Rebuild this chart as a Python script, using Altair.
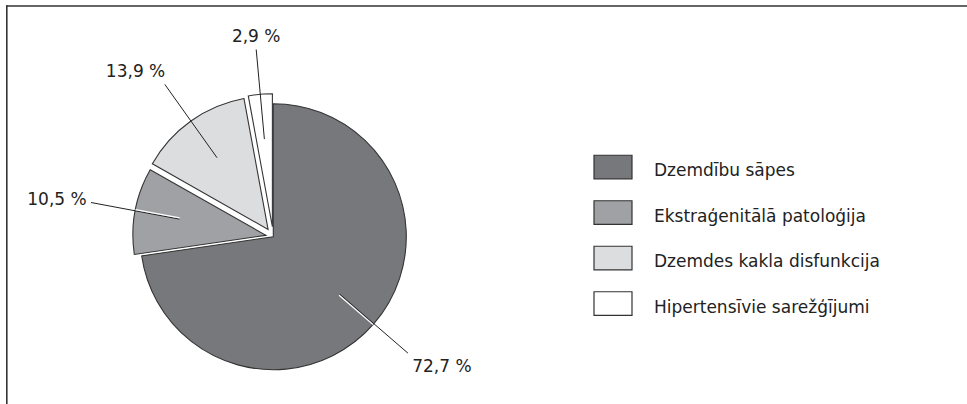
import altair as alt
import pandas as pd

# ---- data ----
categories = ["Dzemdību sāpes", "Ekstraģenitālā patoloģija",
              "Dzemdes kakla disfunkcija", "Hipertensīvie sarežģījumi"]
values = [72.7, 10.5, 13.9, 2.9]
labels = [f"{v:.1f}".replace(".", ",") + " %" for v in values]

# ---- styles ----
colors = ["#77787b", "#a0a1a4", "#dcddde", "#ffffff"]
explode = [0, 7.5, 9, 10]          # px pulled out from centre
dark_fill = [1, 1, 0, 0]           # leader drawn white inside dark slices
CX, CY, R = 273.3, 236.7, 133
R_IN, R_OUT = 88, 178
FONT = "DejaVu Sans"
FS = 17
INK = "#222222"

df = pd.DataFrame({
    "category": categories,
    "value": values,
    "label": labels,
    "order": list(range(len(values))),
    "explode": explode,
    "dark": dark_fill,
})

base = (
    alt.Chart(df)
    .transform_window(cum="sum(value)", sort=[alt.SortField("order", order="ascending")],
                      frame=[None, 0])
    .transform_joinaggregate(total="sum(value)")
    .transform_calculate(
        mid="(datum.cum - datum.value / 2) / datum.total * 2 * PI",
    )
    .transform_calculate(
        cx=f"{CX} + datum.explode * sin(datum.mid)",
        cy=f"{CY} - datum.explode * cos(datum.mid)",
    )
    .transform_calculate(
        lx1=f"datum.cx + {R_IN} * sin(datum.mid)",
        ly1=f"datum.cy - {R_IN} * cos(datum.mid)",
        lx2=f"datum.cx + {R_OUT} * sin(datum.mid)",
        ly2=f"datum.cy - {R_OUT} * cos(datum.mid)",
        wx1=f"datum.cx + {R_IN} * sin(datum.mid) + 1.2 * cos(datum.mid)",
        wy1=f"datum.cy - {R_IN} * cos(datum.mid) + 1.2 * sin(datum.mid)",
        wx2=f"datum.cx + {R} * sin(datum.mid) + 1.2 * cos(datum.mid)",
        wy2=f"datum.cy - {R} * cos(datum.mid) + 1.2 * sin(datum.mid)",
    )
    .transform_calculate(
        tx="datum.lx2 + 34 * (sin(datum.mid) < 0 ? -1 : 1) * min(1, max(0, abs(sin(datum.mid)) - 0.15) * 2)",
        ty="datum.ly2 - 13 * max(-1, min(1, 1.5 * cos(datum.mid))) + 1",
    )
)

arcs = base.mark_arc(radius=R, stroke="#333333", strokeWidth=1.1).encode(
    theta=alt.Theta("value:Q", stack=True),
    order=alt.Order("order:Q", sort="ascending"),
    x=alt.X("cx:Q", scale=None),
    y=alt.Y("cy:Q", scale=None),
    color=alt.Color(
        "category:N",
        sort=categories,
        scale=alt.Scale(domain=categories, range=colors),
        legend=alt.Legend(
            title=None,
            orient="none",
            legendX=593,
            legendY=151,
            symbolType="M-1,-0.83L1,-0.83L1,0.41L-1,0.41Z",
            symbolSize=1444,
            symbolStrokeColor="#333333",
            symbolStrokeWidth=1.2,
            symbolOpacity=1,
            labelFont=FONT,
            labelFontSize=FS,
            labelColor=INK,
            labelOffset=21,
            labelLimit=400,
            rowPadding=14.5,
            padding=0,
        ),
    ),
)

leaders = base.mark_rule(color=INK, strokeWidth=1).encode(
    x=alt.X("lx1:Q", scale=None),
    y=alt.Y("ly1:Q", scale=None),
    x2="lx2:Q",
    y2="ly2:Q",
)

white_leaders = base.transform_filter("datum.dark == 1").mark_rule(
    color="#ffffff", strokeWidth=1.3
).encode(
    x=alt.X("wx1:Q", scale=None),
    y=alt.Y("wy1:Q", scale=None),
    x2="wx2:Q",
    y2="wy2:Q",
)

texts = base.mark_text(font=FONT, fontSize=FS, color=INK, align="center",
                       baseline="middle").encode(
    x=alt.X("tx:Q", scale=None),
    y=alt.Y("ty:Q", scale=None),
    text="label:N",
)

frame_df = pd.DataFrame({"k": [0]})
frame_top = alt.Chart(frame_df).mark_rule(color="#333333", strokeWidth=1.6).encode(
    x=alt.value(6), x2=alt.value(967), y=alt.value(6), y2=alt.value(6)
)
frame_left = alt.Chart(frame_df).mark_rule(color="#333333", strokeWidth=1.6).encode(
    x=alt.value(6.8), x2=alt.value(6.8), y=alt.value(5.2), y2=alt.value(404)
)

chart = (
    alt.layer(frame_top, frame_left, arcs, leaders, white_leaders, texts)
    .properties(width=967, height=404, padding=0, autosize=alt.AutoSizeParams(type="none"),
                background="#ffffff")
    .configure_view(stroke=None)
)

chart.save("out.html", embed_options={"renderer": "svg", "actions": False})
